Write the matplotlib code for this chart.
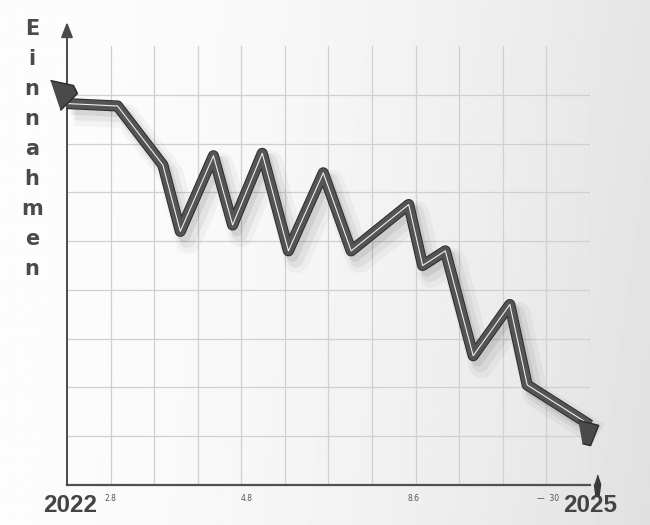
import numpy as np
import matplotlib
matplotlib.use("Agg")
import matplotlib.pyplot as plt
import matplotlib.patheffects as pe

# data
years = [2022.0, 2022.29, 2022.55, 2022.65, 2022.84, 2022.95, 2023.12, 2023.27,
         2023.47, 2023.63, 2023.96, 2024.04, 2024.17, 2024.33, 2024.54, 2024.64, 2025.0]
einnahmen = [7.82, 7.77, 6.56, 5.20, 6.75, 5.33, 6.80, 4.80,
             6.40, 4.80, 5.75, 4.50, 4.80, 2.65, 3.70, 2.05, 1.23]
small_tick_pos = [2022.25, 2023.03, 2023.99, 2024.76]
small_tick_labels = ["2.8", "4.8", "8.6", "\u2014  30"]
end_labels = ["2022", "2025"]
ylabel = "Einnahmen"

W, H = 650, 525
fig = plt.figure(figsize=(6.5, 5.25), dpi=100)

# soft grey background gradient
bg = fig.add_axes([0, 0, 1, 1], zorder=-10)
gx = np.linspace(0, 1, 300)
gy = np.linspace(0, 1, 240)
GX, GY = np.meshgrid(gx, gy)
shade = 0.99 - 0.09 * GX ** 1.8 - 0.02 * GY * GX
bg.imshow(shade, cmap="gray", vmin=0, vmax=1, aspect="auto",
          extent=[0, 1, 0, 1], origin="upper")
bg.axis("off")

ax = fig.add_axes([67 / W, 1 - 485 / H, (590 - 67) / W, (485 - 46) / H])
ax.set_facecolor("none")
ax.set_xlim(2022, 2025)
ax.set_ylim(0, 9)

# grid every quarter year / every unit
ax.set_xticks(np.arange(2022.25, 2025.01, 0.25))
ax.set_yticks(range(1, 9))
ax.grid(color="#d0d0d0", linewidth=0.9)
ax.tick_params(length=0, labelbottom=False, labelleft=False)

# tiny tick labels
for xp, lab in zip(small_tick_pos, small_tick_labels):
    ax.text(xp, -0.28, lab, ha="center", va="center", fontsize=5.5,
            color="#555555", clip_on=False)

for s in ["top", "right", "left"]:
    ax.spines[s].set_visible(False)
ax.spines["bottom"].set_color("#505050")
ax.spines["bottom"].set_linewidth(1.6)

# y axis with arrow head
ax.annotate("", xy=(0, (485 - 22) / (485 - 46)), xytext=(0, 0),
            xycoords="axes fraction", textcoords="axes fraction",
            arrowprops=dict(arrowstyle="-|>,head_width=0.35,head_length=0.9",
                            color="#4a4a4a", lw=1.4, shrinkA=0, shrinkB=0),
            annotation_clip=False)

# main thick line with shadow and white center stripe
ax.plot(years, einnahmen, color="#545457", lw=6.6, solid_joinstyle="round",
        solid_capstyle="butt", clip_on=False, zorder=5,
        path_effects=[
            pe.SimpleLineShadow(offset=(6, -7), shadow_color="k", alpha=0.035, linewidth=18),
            pe.SimpleLineShadow(offset=(5, -6), shadow_color="k", alpha=0.05, linewidth=12),
            pe.SimpleLineShadow(offset=(3, -4), shadow_color="k", alpha=0.07, linewidth=8),
            pe.Stroke(linewidth=8.0, foreground="#2c2c2e"),
            pe.Normal()])
ax.plot(years, einnahmen, color="white", lw=0.8, alpha=0.9,
        solid_joinstyle="round", clip_on=False, zorder=6)

# arrow heads at both ends
start_head = [(-14, 14), (9, 9), (13, 1), (3, -9), (-4, -16)]
end_head = [(-9, 13), (11, 8), (3, -12), (-5, -10)]
ax.plot(2021.983, 8.02, marker=start_head, markersize=23,
        color="#4a4a4c", markeredgecolor="#2c2c2e", clip_on=False, zorder=7)
ax.plot(2024.983, 1.07, marker=end_head, markersize=19,
        color="#4a4a4c", markeredgecolor="#2c2c2e", clip_on=False, zorder=7)
ax.plot(2025.04, 0, marker=[(0, 1), (0.3, 0.1), (0.15, -1), (-0.15, -1), (-0.3, 0.1)],
        markersize=15, color="#3a3a3c", clip_on=False, zorder=7)

# big year labels
for yr, lab in zip([years[0] + 0.017, years[-1]], end_labels):
    ax.text(yr, -0.42, lab, ha="center", va="center", fontsize=17.5,
            fontweight="bold", color="#444444", family="Liberation Sans",
            transform=ax.transData, clip_on=False)

# vertical stacked y label
for k, ch in enumerate(ylabel):
    fig.text(32 / W, 1 - (35 + 30 * k) / H, ch, ha="center", va="baseline",
             fontsize=15, fontweight="bold", color="#4a4a4a", family="DejaVu Sans")

fig.savefig("out.png", dpi=100)
